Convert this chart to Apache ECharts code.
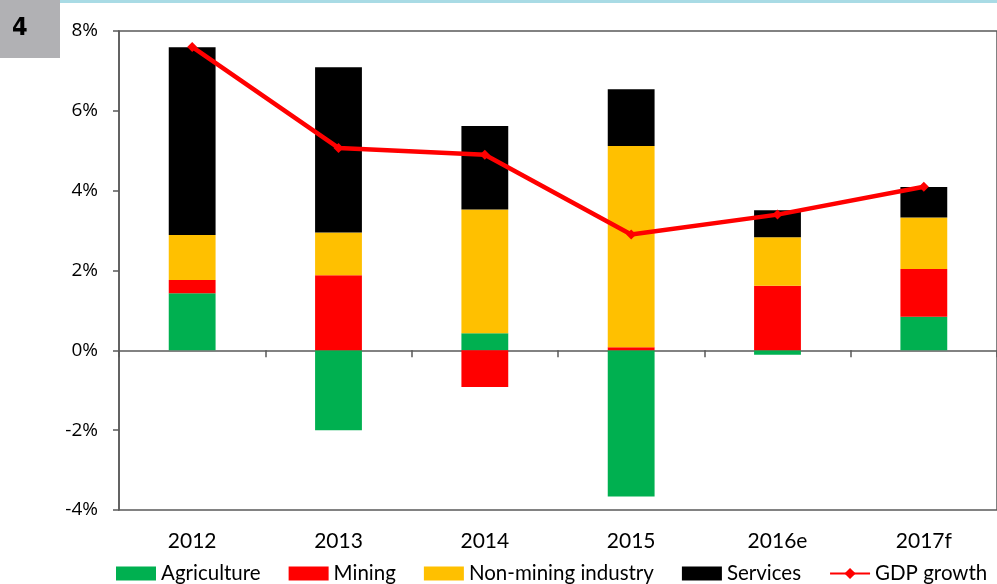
<!DOCTYPE html>
<html>
<head>
<meta charset="utf-8">
<script src="https://cdn.jsdelivr.net/npm/echarts@6/dist/echarts.min.js"></script>
<style>
  html, body { margin: 0; padding: 0; background: #fff; }
  #chart { width: 997px; height: 584px; }
</style>
</head>
<body>
<div id="chart"></div>
<script>
// GDP growth contributions by sector (percentage points)
const years = ['2012', '2013', '2014', '2015', '2016e', '2017f'];
const agriculture = [1.43, -2.0, 0.43, -3.66, -0.11, 0.84];
const mining = [0.33, 1.88, -0.92, 0.08, 1.62, 1.20];
const nonMining = [1.13, 1.07, 3.10, 5.04, 1.21, 1.29];
const services = [4.70, 4.14, 2.09, 1.42, 0.68, 0.76];
const gdpGrowth = [7.6, 5.07, 4.9, 2.9, 3.4, 4.1];

const axisColor = '#595959';
const chart = echarts.init(document.getElementById('chart'));

function barSeries(name, data, color) {
    return {
        name: name, type: 'bar', stack: 'total', barWidth: '32%',
        data: data, itemStyle: { color: color }
    };
}

chart.setOption({
    backgroundColor: '#ffffff',
    animation: false,
    graphic: [
        // gray chart-number box and thin cyan rule at the top
        { type: 'rect', left: 0, top: 0, shape: { width: 60, height: 58 }, style: { fill: '#b1b1b4' } },
        { type: 'text', left: 12, top: 16, style: { text: '4', font: 'bold 25px "Liberation Sans Narrow", "DejaVu Sans Condensed", sans-serif', fill: '#000' } },
        { type: 'rect', left: 60, top: 0, shape: { width: 937, height: 3 }, style: { fill: '#a9dbe5' } }
    ],
    grid: {
        left: 119, top: 31, bottom: 74, width: 882,
        show: true, borderColor: axisColor, borderWidth: 1.5, backgroundColor: 'transparent'
    },
    legend: {
        left: 111, top: 558, width: 900, padding: [5, 0, 5, 5],
        itemWidth: 40, itemHeight: 14, itemGap: 28,
        textStyle: { fontFamily: 'Lato', fontSize: 20.5, color: '#000' },
        data: [
            { name: 'Agriculture', icon: 'rect' },
            { name: 'Mining', icon: 'rect' },
            { name: 'Non-mining industry', icon: 'rect' },
            { name: 'Services', icon: 'rect' },
            'GDP growth'
        ]
    },
    xAxis: [
        {
            type: 'category', data: years,
            axisLine: { onZero: true, lineStyle: { color: axisColor, width: 1.5 } },
            axisTick: { show: true, length: 7, lineStyle: { color: axisColor, width: 1.5 } },
            axisLabel: { show: false }
        },
        {
            type: 'category', data: years, position: 'bottom',
            axisLine: { show: false }, axisTick: { show: false },
            axisLabel: { margin: 21, fontFamily: 'Lato', fontSize: 21, color: '#000' }
        }
    ],
    yAxis: {
        type: 'value', min: -4, max: 8, interval: 2,
        axisLine: { show: true, lineStyle: { color: axisColor, width: 1.5 } },
        axisTick: { show: true, length: 6, lineStyle: { color: axisColor, width: 1.5 } },
        splitLine: { show: false },
        axisLabel: { formatter: '{value}%', margin: 21, fontFamily: 'Open Sans', fontSize: 19, color: '#000' }
    },
    series: [
        barSeries('Agriculture', agriculture, '#00b050'),
        barSeries('Mining', mining, '#ff0000'),
        barSeries('Non-mining industry', nonMining, '#ffc000'),
        barSeries('Services', services, '#000000'),
        {
            name: 'GDP growth', type: 'line', data: gdpGrowth, z: 5,
            symbol: 'diamond', symbolSize: 10,
            lineStyle: { color: '#ff0000', width: 4.5 },
            itemStyle: { color: '#ff0000' }
        }
    ]
});
</script>
</body>
</html>
